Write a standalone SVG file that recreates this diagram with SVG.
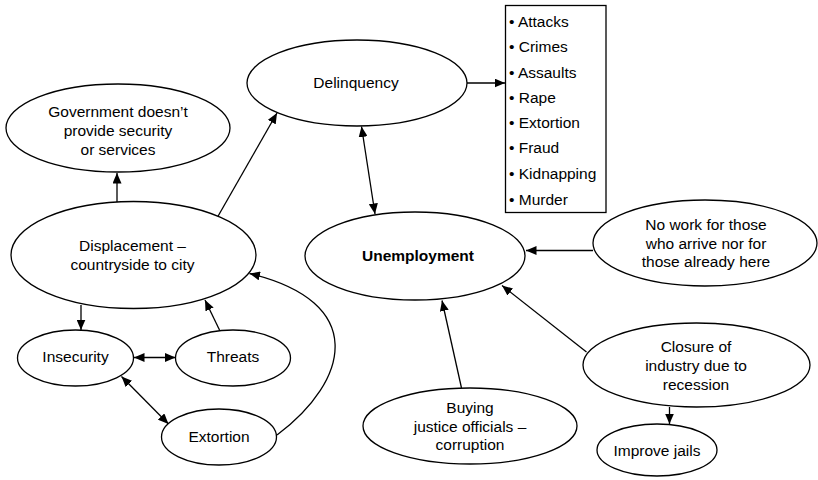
<svg xmlns="http://www.w3.org/2000/svg" width="818" height="480" viewBox="0 0 818 480">
  <style>
    .node { fill: #fff; stroke: #000; stroke-width: 1.3; }
    .lbl { font-family: "Liberation Sans", Arial, Helvetica, sans-serif; font-size: 15.5px; fill: #000; text-anchor: middle; }
    .item { font-family: "Liberation Sans", Arial, Helvetica, sans-serif; font-size: 15.5px; fill: #000; }
    .bold { font-weight: bold; }
    .edge { fill: none; stroke: #000; stroke-width: 1.3; }
  </style>
  <defs>
    <marker id="arrow" markerUnits="userSpaceOnUse" markerWidth="11" markerHeight="9" refX="10.5" refY="4.5" orient="auto-start-reverse">
      <path d="M0,0 L10.5,4.5 L0,9 z" fill="#000"/>
    </marker>
  </defs>

  <!-- connectors -->
  <g id="connectors">
    <line class="edge" x1="117" y1="202" x2="117" y2="173" marker-end="url(#arrow)"/>
    <line class="edge" x1="217" y1="218" x2="277" y2="113" marker-end="url(#arrow)"/>
    <line class="edge" x1="467" y1="83" x2="505" y2="83" marker-end="url(#arrow)"/>
    <line class="edge" x1="361.5" y1="126.5" x2="375" y2="214" marker-start="url(#arrow)" marker-end="url(#arrow)"/>
    <line class="edge" x1="593" y1="250.5" x2="526" y2="250.5" marker-end="url(#arrow)"/>
    <line class="edge" x1="586.5" y1="352" x2="502" y2="285.5" marker-end="url(#arrow)"/>
    <line class="edge" x1="461.5" y1="388" x2="442" y2="300.5" marker-end="url(#arrow)"/>
    <line class="edge" x1="669.5" y1="407" x2="669.5" y2="424" marker-end="url(#arrow)"/>
    <line class="edge" x1="81" y1="305" x2="81" y2="330" marker-end="url(#arrow)"/>
    <line class="edge" x1="134" y1="357.5" x2="175.5" y2="357.5" marker-start="url(#arrow)" marker-end="url(#arrow)"/>
    <line class="edge" x1="219.5" y1="330" x2="205" y2="300" marker-end="url(#arrow)"/>
    <line class="edge" x1="121.5" y1="376.5" x2="168.5" y2="424" marker-start="url(#arrow)" marker-end="url(#arrow)"/>
    <path class="edge" d="M277,435 C350,380 368,302 249.5,273.5" marker-end="url(#arrow)"/>
  </g>

  <g id="government">
    <ellipse class="node" cx="118" cy="128" rx="112" ry="44"/>
    <text class="lbl" x="118" y="117">Government doesn’t</text>
    <text class="lbl" x="118" y="136">provide security</text>
    <text class="lbl" x="118" y="154.5">or services</text>
  </g>

  <g id="delinquency">
    <ellipse class="node" cx="357" cy="83" rx="110" ry="43"/>
    <text class="lbl" x="356" y="87.5">Delinquency</text>
  </g>

  <g id="crime-list">
    <rect class="node" x="505.5" y="5.5" width="100.5" height="207"/>
    <g class="item">
      <text x="509" y="27">• Attacks</text>
      <text x="509" y="52">• Crimes</text>
      <text x="509" y="78">• Assaults</text>
      <text x="509" y="103">• Rape</text>
      <text x="509" y="128">• Extortion</text>
      <text x="509" y="153">• Fraud</text>
      <text x="509" y="178.5">• Kidnapping</text>
      <text x="509" y="204.5">• Murder</text>
    </g>
  </g>

  <g id="unemployment">
    <ellipse class="node" cx="415" cy="256" rx="110" ry="44"/>
    <text class="lbl bold" x="418" y="260.5">Unemployment</text>
  </g>

  <g id="no-work">
    <ellipse class="node" cx="705" cy="243" rx="112" ry="43"/>
    <text class="lbl" x="706" y="230">No work for those</text>
    <text class="lbl" x="706" y="248.5">who arrive nor for</text>
    <text class="lbl" x="706" y="267">those already here</text>
  </g>

  <g id="closure">
    <ellipse class="node" cx="696.5" cy="365" rx="113.5" ry="42"/>
    <text class="lbl" x="696" y="352">Closure of</text>
    <text class="lbl" x="696" y="371">industry due to</text>
    <text class="lbl" x="696" y="389.5">recession</text>
  </g>

  <g id="improve-jails">
    <ellipse class="node" cx="657" cy="450" rx="60" ry="26"/>
    <text class="lbl" x="657" y="455.5">Improve jails</text>
  </g>

  <g id="buying">
    <ellipse class="node" cx="470" cy="426" rx="107" ry="38"/>
    <text class="lbl" x="470" y="413">Buying</text>
    <text class="lbl" x="470" y="431.5">justice officials –</text>
    <text class="lbl" x="470" y="450">corruption</text>
  </g>

  <g id="displacement">
    <ellipse class="node" cx="133.5" cy="255" rx="122.5" ry="53.5"/>
    <text class="lbl" x="132.5" y="251">Displacement –</text>
    <text class="lbl" x="132.5" y="270">countryside to city</text>
  </g>

  <g id="insecurity">
    <ellipse class="node" cx="75.5" cy="358" rx="58" ry="28"/>
    <text class="lbl" x="75.5" y="362">Insecurity</text>
  </g>

  <g id="threats">
    <ellipse class="node" cx="233" cy="358" rx="57.5" ry="28"/>
    <text class="lbl" x="233" y="362">Threats</text>
  </g>

  <g id="extortion">
    <ellipse class="node" cx="219" cy="437" rx="57.5" ry="28"/>
    <text class="lbl" x="219" y="441.5">Extortion</text>
  </g>
</svg>
